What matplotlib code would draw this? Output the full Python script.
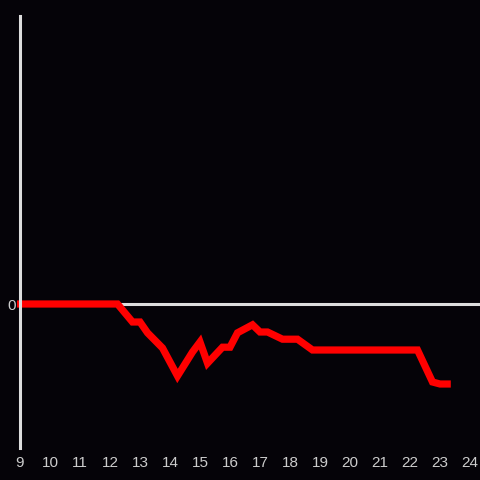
import matplotlib
matplotlib.use("Agg")
import matplotlib.pyplot as plt

hours = [8.9, 12.25, 12.75, 13.0, 13.25, 13.75, 14.25, 14.75, 15.0, 15.25, 15.75, 16.0,
         16.25, 16.75, 17.0, 17.25, 17.75, 18.25, 18.75, 22.25, 22.75, 23.0, 23.36]
values = [0, 0, -2.25, -2.25, -3.6, -5.5, -9.0, -6.0, -4.75, -7.4, -5.4, -5.4,
          -3.6, -2.6, -3.5, -3.5, -4.4, -4.4, -5.75, -5.75, -9.75, -10.0, -10.0]
xticks = list(range(9, 25))

bg = "#050308"
axis_col = "#dddddd"
text_col = "#cccccc"

plt.rcParams['font.family'] = ['Liberation Sans', 'DejaVu Sans']

fig = plt.figure(figsize=(4.8, 4.8), dpi=100, facecolor=bg)
ax = fig.add_axes([20/480, 32/480, 460/480, 432/480])
ax.set_facecolor(bg)

ax.set_xlim(9, 24 + 1/3)
ax.set_ylim(-18, 36)

ax.axhline(0, color=axis_col, lw=2.2, zorder=1)
ax.plot(hours, values, color="#ff0000", lw=5.2, solid_joinstyle="miter",
        solid_capstyle="butt", zorder=3, clip_on=False)

for s in ["top", "right", "bottom"]:
    ax.spines[s].set_visible(False)
ax.spines["left"].set_color(axis_col)
ax.spines["left"].set_linewidth(2.2)
ax.spines["left"].set_zorder(4)

ax.set_xticks(xticks)
ax.set_xticklabels([str(t) for t in xticks])
ax.set_yticks([0])
ax.set_yticklabels(["0"])
ax.tick_params(axis="both", length=0, colors=text_col, labelsize=11)
ax.tick_params(axis="x", pad=6)
ax.tick_params(axis="y", pad=3)

fig.savefig("out.png", dpi=100, facecolor=bg)
